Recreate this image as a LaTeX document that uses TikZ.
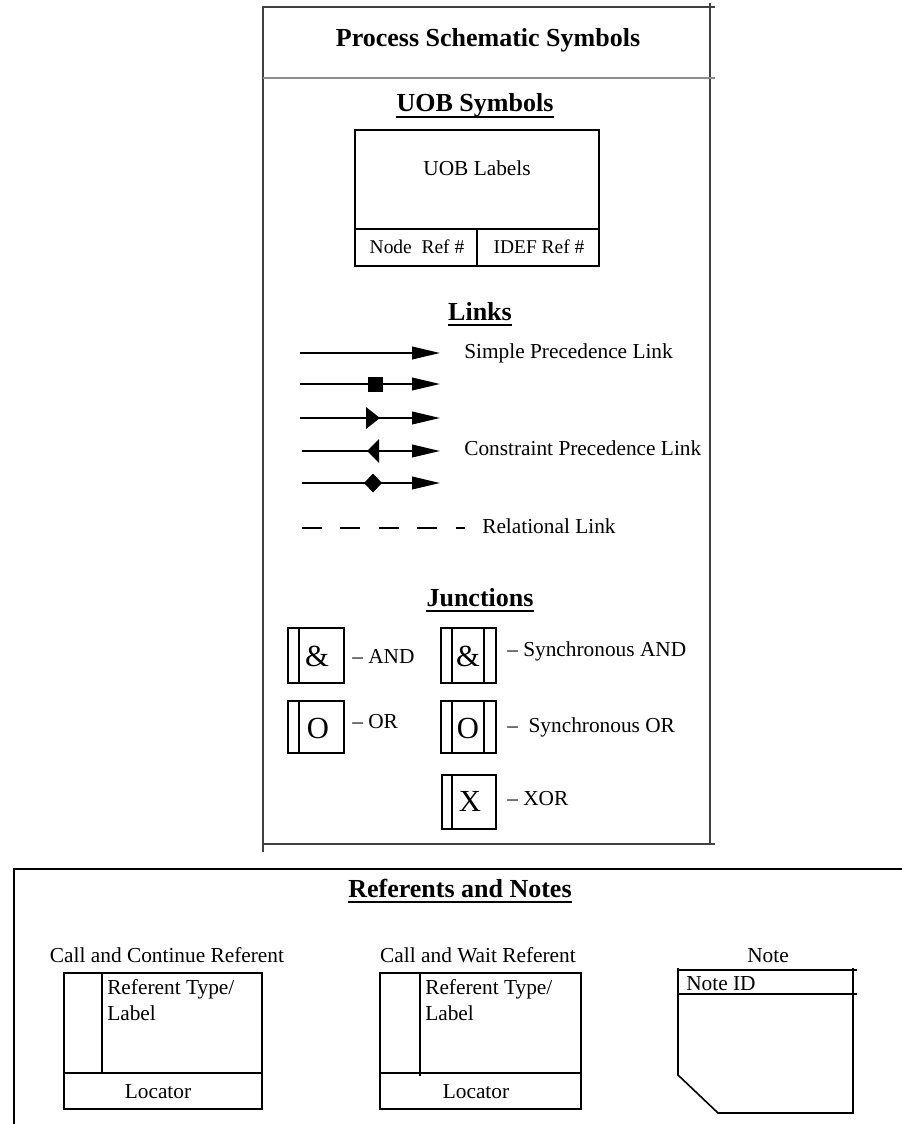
\documentclass[tikz,border=0pt]{standalone}
\usepackage{fontspec}
\setmainfont{Liberation Serif}
\usetikzlibrary{arrows.meta}
\begin{document}
\begin{tikzpicture}[x=0.75pt,y=-0.75pt,
  frame/.style={line width=1.6pt, draw=black!75},
  thinbox/.style={line width=1.2pt},
  head/.style={font=\fontsize{19.5}{23}\selectfont\bfseries, inner sep=0pt},
  txt/.style={font=\fontsize{16}{19.5}\selectfont, inner sep=0pt},
  smalltxt/.style={font=\fontsize{14.6}{17}\selectfont, inner sep=0pt},
  bigsym/.style={font=\fontsize{23}{27}\selectfont, inner sep=0pt},
  link/.style={line width=1.3pt, -{Triangle[length=21pt,width=9.5pt]}},
  ul/.style={line width=1.3pt}]
\useasboundingbox (0,0) rectangle (902,1124);

% ---------- upper frame ----------
\draw[frame] (263,852) -- (263,7) -- (715,7);
\draw[frame] (710,3) -- (710,844);
\draw[frame] (263,844) -- (715,844);
\draw[frame, draw=black!45] (263,78) -- (715,78);
\node[head, anchor=base] (title) at (488,47) {Process Schematic Symbols};

% ---------- UOB symbols ----------
\node[head, anchor=base] (uobh) at (475,112) {UOB Symbols};
\draw[ul] ([yshift=-3.8pt]uobh.base west) -- ([yshift=-3.8pt]uobh.base east);
\draw[thinbox] (355,130) rectangle (599,266);
\draw[thinbox] (355,229) -- (599,229);
\draw[thinbox] (477,229) -- (477,266);
\node[txt, anchor=base] (uobl) at (477,175) {UOB Labels};
\node[smalltxt, anchor=base] (noderef) at (417,253) {Node\ \ Ref \#};
\node[smalltxt, anchor=base] (idefref) at (539,253) {IDEF Ref \#};

% ---------- Links ----------
\node[head, anchor=base] (linksh) at (480,320) {Links};
\draw[ul] ([yshift=-3.8pt]linksh.base west) -- ([yshift=-3.8pt]linksh.base east);

\coordinate (a1s) at (300,353); \coordinate (a1e) at (440,353);
\coordinate (a2s) at (300,384); \coordinate (a2e) at (440,384);
\coordinate (a3s) at (300,418); \coordinate (a3e) at (440,418);
\coordinate (a4s) at (302,451); \coordinate (a4e) at (440,451);
\coordinate (a5s) at (302,483); \coordinate (a5e) at (440,483);
\coordinate (rls) at (302,528); \coordinate (rle) at (465,528);

\draw[link] (a1s) -- (a1e);
\draw[link] (a2s) -- (a2e);
\fill (367.5,376.5) rectangle (382.5,391.5);
\draw[link] (a3s) -- (a3e);
\fill (366,407) -- (380,418) -- (366,429) -- cycle;
\draw[link] (a4s) -- (a4e);
\fill (367,451) -- (379,439) -- (379,463) -- cycle;
\draw[link] (a5s) -- (a5e);
\fill (364,483) -- (373,473.5) -- (382,483) -- (373,492.5) -- cycle;
\draw[line width=1.3pt, dash pattern=on 15pt off 13.8pt] (rls) -- (rle);

\node[txt, anchor=base west] (spl) at (464,358) {Simple Precedence Link};
\node[txt, anchor=base west] (cpl) at (464,455) {Constraint Precedence Link};
\node[txt, anchor=base west] (rl) at (482,533) {Relational Link};

% ---------- Junctions ----------
\node[head, anchor=base] (junh) at (480,606) {Junctions};
\draw[ul] ([yshift=-3.8pt]junh.base west) -- ([yshift=-3.8pt]junh.base east);

% AND
\draw[thinbox] (288,628) rectangle (344,683);
\draw[thinbox] (299,628) -- (299,683);
\node[bigsym] (andsym) at (317,656) {\&};
\node[txt, anchor=base west] (andl) at (352,663) {– AND};
% Synchronous AND
\draw[thinbox] (441,628) rectangle (496,683);
\draw[thinbox] (452,628) -- (452,683);
\draw[thinbox] (484,628) -- (484,683);
\node[bigsym] (sandsym) at (468,656) {\&};
\node[txt, anchor=base west] (sandl) at (507,656) {– Synchronous AND};
% OR
\draw[thinbox] (288,701) rectangle (344,753);
\draw[thinbox] (299,701) -- (299,753);
\node[bigsym] (orsym) at (318,728) {O};
\node[txt, anchor=base west] (orl) at (352,728) {– OR};
% Synchronous OR
\draw[thinbox] (441,701) rectangle (496,753);
\draw[thinbox] (452,701) -- (452,753);
\draw[thinbox] (484,701) -- (484,753);
\node[bigsym] (sorsym) at (468,728) {O};
\node[txt, anchor=base west] (sorl) at (507,732) {–\ \ Synchronous OR};
% XOR
\draw[thinbox] (442,775) rectangle (496,829);
\draw[thinbox] (452,775) -- (452,829);
\node[bigsym] (xorsym) at (470,801) {X};
\node[txt, anchor=base west] (xorl) at (507,805) {– XOR};

% ---------- lower frame ----------
\draw[frame, draw=black] (14,1124) -- (14,869) -- (902,869);
\node[head, anchor=base] (refh) at (460,897) {Referents and Notes};
\draw[ul] ([yshift=-3.8pt]refh.base west) -- ([yshift=-3.8pt]refh.base east);

% Call and Continue Referent
\node[txt, anchor=base] (ccl) at (167,962) {Call and Continue Referent};
\draw[thinbox] (64,973) rectangle (262,1109);
\draw[thinbox] (64,1073) -- (262,1073);
\draw[thinbox] (102,973) -- (102,1073);
\node[txt, anchor=base west] (cct1) at (107,994) {Referent Type/};
\node[txt, anchor=base west] (cct2) at (107,1020) {Label};
\node[txt, anchor=base] (ccloc) at (158,1098) {Locator};

% Call and Wait Referent
\node[txt, anchor=base] (cwl) at (478,962) {Call and Wait Referent};
\draw[thinbox] (380,973) rectangle (581,1109);
\draw[thinbox] (380,1073) -- (581,1073);
\draw[thinbox] (420,973) -- (420,1076);
\node[txt, anchor=base west] (cwt1) at (425,994) {Referent Type/};
\node[txt, anchor=base west] (cwt2) at (425,1020) {Label};
\node[txt, anchor=base] (cwloc) at (476,1098) {Locator};

% Note
\node[txt, anchor=base] (notel) at (768,962) {Note};
\draw[thinbox] (678,970) -- (857,970);
\draw[thinbox] (678,994) -- (857,994);
\draw[thinbox] (853,968) -- (853,1114);
\draw[thinbox] (678,968) -- (678,1075) -- (718,1113) -- (853,1113);
\node[txt, anchor=base west] (noteid) at (686,990) {Note ID};
\end{tikzpicture}
\end{document}
